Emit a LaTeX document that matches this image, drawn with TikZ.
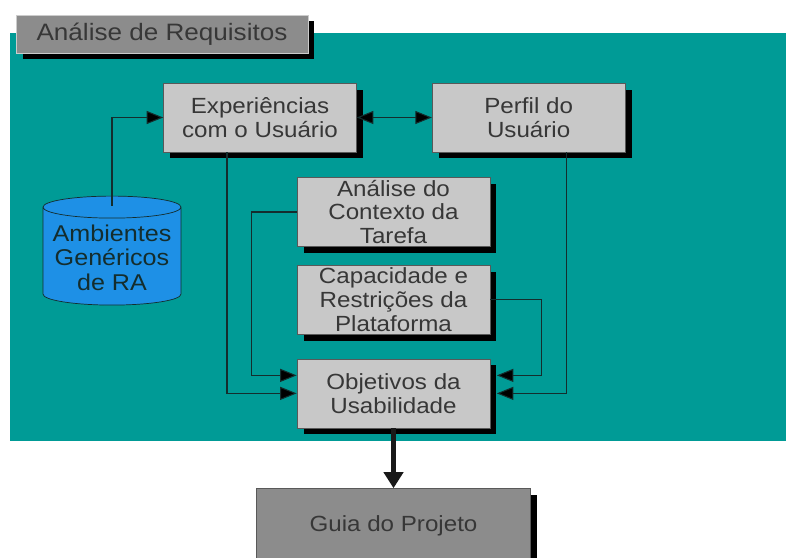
\documentclass[tikz,border=0pt]{standalone}
\usepackage{fontspec}
\setmainfont{Liberation Sans}[FakeStretch=1.1]
\usetikzlibrary{positioning,shapes.geometric,shadows,arrows.meta}
\definecolor{tealbg}{RGB}{0,155,150}
\definecolor{boxgray}{RGB}{200,200,200}
\definecolor{darkgray}{RGB}{140,140,140}
\definecolor{boxtext}{RGB}{55,55,55}
\definecolor{linedark}{RGB}{20,45,45}
\definecolor{cylblue}{RGB}{30,144,230}

\begin{document}
\begin{tikzpicture}[x=0.02cm,y=-0.02cm,node distance=1cm,
    box/.style={rectangle,draw=gray!70!black,fill=boxgray,text=boxtext,minimum width=3.86cm,minimum height=1.38cm,align=center,inner sep=1pt,font=\fontsize{12.5}{13.5}\selectfont,drop shadow={shadow xshift=.13cm,shadow yshift=-.13cm,opacity=1,fill=black}},
    dark/.style={box,fill=darkgray,minimum width=5.48cm,minimum height=1.5cm},
    tab/.style={rectangle,draw=gray!40,fill=darkgray,text=boxtext,minimum width=5.84cm,minimum height=.76cm,font=\fontsize{13.5}{14}\selectfont,drop shadow={shadow xshift=.13cm,shadow yshift=-.13cm,opacity=1,fill=black}},
    db/.style={cylinder,shape border rotate=90,aspect=0.18,draw=linedark,fill=cylblue,text=linedark,minimum width=2.76cm,minimum height=2.18cm,align=center,inner sep=1pt,font=\fontsize{13}{14}\selectfont},
    conn/.style={-{Triangle[length=3.3mm,width=2.6mm,fill=black]},draw=linedark,line width=.6pt},
    both/.style={conn,{Triangle[length=3.3mm,width=2.6mm,fill=black]}-{Triangle[length=3.3mm,width=2.6mm,fill=black]}},
    thickarrow/.style={-{Triangle[length=3.2mm,width=3.8mm]},line width=3.4pt,draw=black!90}]
    \useasboundingbox (0,0) rectangle (786,557);
    \fill[tealbg] (10,33) rectangle (786,441);
    \node[tab] (req) at (162,34) {Análise de Requisitos};
    \node[box] (exp) at (260,117.5) {Experiências\\com o Usuário};
    \node[box,right=1.5cm of exp] (perfil) {Perfil do\\Usuário};
    \node[db] (amb) at (112,257.5) {Ambientes\\Genéricos\\de RA};
    \node[box] (ctx) at (393.5,212) {Análise do\\Contexto da\\Tarefa};
    \node[box,below=.36cm of ctx] (plat) {Capacidade e\\Restrições da\\Plataforma};
    \node[box,below=.48cm of plat] (obj) {Objetivos da\\Usabilidade};
    \node[dark,below=1.2cm of obj] (guia) {Guia do Projeto};
    \draw[conn] ([yshift=-.2cm]amb.north) |- (exp.west);
    \draw[both] (exp.east) -- (perfil.west);
    \draw[conn] ([xshift=-.66cm]exp.south) |- (obj.west);
    \draw[conn] (ctx.west) -- ++(-.9cm,0) |- ([yshift=.36cm]obj.west);
    \draw[conn] (plat.east) -- ++(1.02cm,0) |- ([xshift=.13cm,yshift=.36cm]obj.east);
    \draw[conn] ([xshift=.75cm]perfil.south) |- ([xshift=.13cm]obj.east);
    \draw[thickarrow] (obj.south) -- (guia.north);
\end{tikzpicture}
\end{document}
